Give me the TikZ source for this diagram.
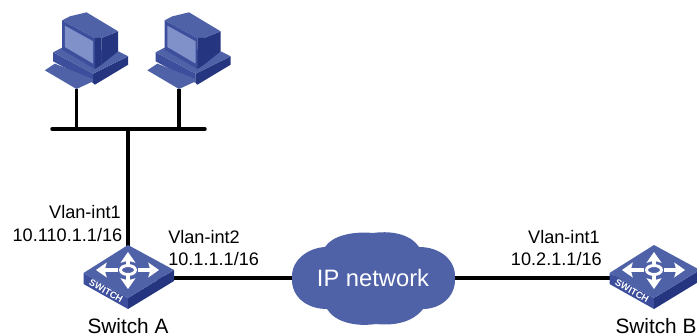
\documentclass[tikz,border=0pt]{standalone}
\usepackage{fontspec}
\setmainfont{Liberation Sans}
\usetikzlibrary{arrows.meta}
\definecolor{topblue}{HTML}{4F62A8}
\definecolor{sideblue}{HTML}{3C4E9C}
\definecolor{darkblue}{HTML}{26357F}
\definecolor{screenblue}{HTML}{8090C8}
\tikzset{
    lan/.style = {line width=2.6pt},
    lbl/.style = {font=\fontsize{13.6}{15}\selectfont, inner sep=0pt, align=right, anchor=east},
    devname/.style = {font=\fontsize{15.6}{17}\selectfont, inner sep=0pt},
    arrw/.style = {-{Stealth[length=8pt,width=11pt,inset=1.5pt]}, line width=2.6pt},
    pc/.pic = {
        \begin{scope}[x=.25pt, y=-.25pt, shift={(-140,-268)}]
            \fill[sideblue] (70,158) -- (70,185) -- (190,250) -- (190,222) -- cycle;
            \fill[darkblue] (190,222) -- (295,170) -- (295,195) -- (195,255) -- (190,250) -- cycle;
            \fill[topblue] (70,158) -- (100,142) -- (265,155) -- (295,170) -- (190,222) -- cycle;
            \fill[topblue] (45,212) -- (75,192) -- (190,238) -- (190,245) -- (140,268) -- cycle;
            \fill[darkblue] (215,115) -- (265,95) -- (265,155) -- (215,195) -- cycle;
            \fill[topblue] (97,62) -- (120,50) -- (170,38) -- (265,95) -- (215,115) -- (195,115) -- cycle;
            \fill[sideblue] (97,62) -- (97,150) -- (195,208) -- (195,115) -- cycle;
            \fill[darkblue] (195,115) -- (215,115) -- (215,195) -- (195,208) -- cycle;
            \fill[screenblue] (105,78) -- (190,125) -- (190,192) -- (105,142) -- cycle;
        \end{scope}
    },
    switch/.pic = {
        \begin{scope}[x=.75pt, y=-.75pt]
            \fill[sideblue] (-44.5,-5) -- (0,20) -- (0,31) -- (-44.5,6) -- cycle;
            \fill[darkblue] (0,20) -- (46,-8) -- (46,3) -- (0,31) -- cycle;
            \fill[topblue] (0,-33) -- (46,-8) -- (0,20) -- (-44.5,-5) -- cycle;
            \draw[white, line width=2.2pt] (0,-8) ellipse (7.5 and 4.5);
            \draw[white, arrw] (0,-14) -- (0,-26);
            \draw[white, arrw] (0,-2) -- (0,11);
            \draw[white, arrw] (-10,-8) -- (-32,-8);
            \draw[white, arrw] (10,-8) -- (31,-8);
            \node[white, rotate=-29, font=\bfseries\fontsize{7}{8}\selectfont, inner sep=0pt] (lab) at (-22,13) {SWITCH};
        \end{scope}
    }
}
\begin{document}
\begin{tikzpicture}[x=.75pt, y=-.75pt]
    \useasboundingbox (0,0) rectangle (697,335);
    \coordinate (pcA) at (76.5,89);
    \coordinate (pcB) at (179,89);
    \coordinate (busL) at (52,129);
    \coordinate (busR) at (205,129);
    \coordinate (busA) at (76.5,129);
    \coordinate (busB) at (179,129);
    \coordinate (busM) at (128,129);
    \coordinate (swA) at (128,278);
    \coordinate (swB) at (654,278);
    \coordinate (net) at (373,278);

    % cabling goes below the devices
    \draw[lan] (pcA) -- (busA);
    \draw[lan] (pcB) -- (busB);
    \draw[lan, line cap=round] (busL) -- (busR);
    \draw[lan] (busM) -- (swA);
    \draw[lan] (swA) -- (net);
    \draw[lan] (net) -- (swB);

    \pic at (pcA) {pc};
    \pic at (pcB) {pc};
    \pic at (swA) {switch};
    \pic at (swB) {switch};

    % cloud
    \fill[topblue] (292,278)
        .. controls (291,260) and (308,248) .. (325,247)
        .. controls (332,236) and (352,231) .. (373,233)
        .. controls (395,230) and (412,236) .. (419,247)
        .. controls (440,247) and (456,260) .. (455,278)
        .. controls (456,297) and (440,309) .. (423,309)
        .. controls (413,322) and (395,326) .. (376,324)
        .. controls (355,327) and (335,322) .. (327,309)
        .. controls (306,309) and (291,296) .. (292,278) -- cycle;
    \node[devname, white, font=\fontsize{17.8}{19}\selectfont] (cloudtxt) at (373,278) {IP network};

    \node[lbl] (vA1) at (121,212) {Vlan-int1};
    \node[lbl] (ipA1) at (122.5,235) {10.110.1.1/16};
    \node[lbl, anchor=west] (vA2) at (168,237) {Vlan-int2};
    \node[lbl, anchor=west] (ipA2) at (168,259) {10.1.1.1/16};
    \node[lbl] (vB1) at (600,237) {Vlan-int1};
    \node[lbl] (ipB1) at (602,259) {10.2.1.1/16};
    \node[devname] (nameA) at (128,326) {Switch A};
    \node[devname] (nameB) at (656,326) {Switch B};
\end{tikzpicture}
\end{document}
